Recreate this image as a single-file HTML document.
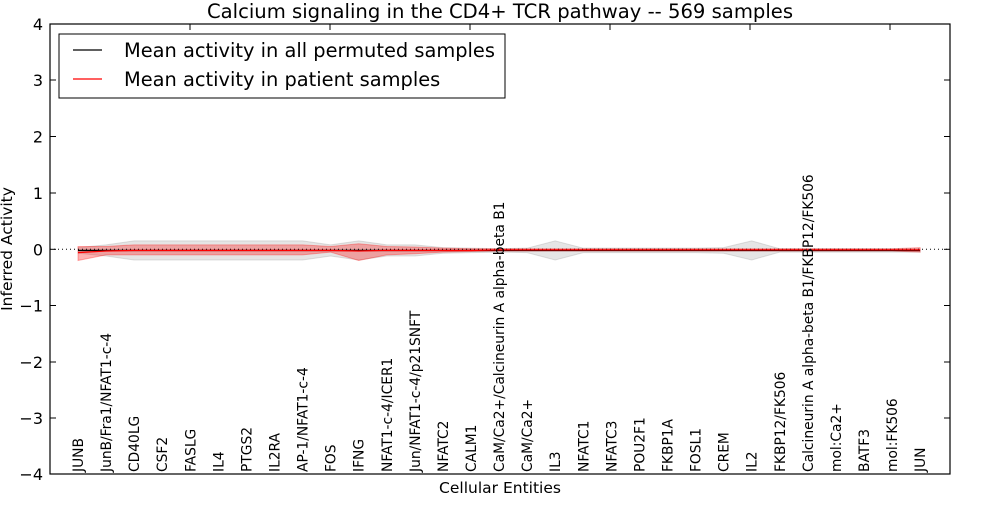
<!DOCTYPE html>
<html><head><meta charset="utf-8"><style>
html,body{margin:0;padding:0;background:#fff;}
svg text{font-family:"DejaVu Sans","Liberation Sans",sans-serif;}
</style></head><body>
<svg id="s" width="1000" height="500" viewBox="0 0 1000 500" xmlns="http://www.w3.org/2000/svg">
<rect width="1000" height="500" fill="#fff"/>
<g id="bands"></g>
<line x1="50" y1="249.3" x2="950" y2="249.3" stroke="#000" stroke-width="1" stroke-dasharray="1,3"/>
<g id="lines"></g>
<rect x="50" y="24" width="900" height="450" fill="none" stroke="#000" stroke-width="1.2"/>
<g stroke="#000" stroke-width="1">
<line x1="50" y1="24" x2="56" y2="24"/><line x1="50" y1="80" x2="56" y2="80"/><line x1="50" y1="136.5" x2="56" y2="136.5"/><line x1="50" y1="193" x2="56" y2="193"/><line x1="50" y1="249.3" x2="56" y2="249.3"/><line x1="50" y1="305.5" x2="56" y2="305.5"/><line x1="50" y1="362" x2="56" y2="362"/><line x1="50" y1="418" x2="56" y2="418"/>
<line x1="950" y1="80" x2="944" y2="80"/><line x1="950" y1="136.5" x2="944" y2="136.5"/><line x1="950" y1="193" x2="944" y2="193"/><line x1="950" y1="249.3" x2="944" y2="249.3"/><line x1="950" y1="305.5" x2="944" y2="305.5"/><line x1="950" y1="362" x2="944" y2="362"/><line x1="950" y1="418" x2="944" y2="418"/>
<line x1="190" y1="24" x2="190" y2="30"/><line x1="330" y1="24" x2="330" y2="30"/><line x1="470" y1="24" x2="470" y2="30"/><line x1="610" y1="24" x2="610" y2="30"/><line x1="750" y1="24" x2="750" y2="30"/><line x1="890" y1="24" x2="890" y2="30"/>
</g>
<g font-size="16" text-anchor="end" fill="#000">
<text x="43" y="30">4</text><text x="43" y="86">3</text><text x="43" y="142.5">2</text><text x="43" y="199">1</text><text x="43" y="255.3">0</text><text x="43" y="311.5">−1</text><text x="43" y="368">−2</text><text x="43" y="424">−3</text><text x="43" y="480">−4</text>
</g>
<text x="500" y="18" font-size="19.6" text-anchor="middle">Calcium signaling in the CD4+ TCR pathway -- 569 samples</text>
<text x="500" y="493" font-size="15.5" text-anchor="middle">Cellular Entities</text>
<text transform="translate(12,249) rotate(-90)" font-size="15.5" text-anchor="middle">Inferred Activity</text>
<g id="labels" font-size="13.8"></g>
<rect x="59" y="34" width="446" height="64" fill="#fff" stroke="#000" stroke-width="1"/>
<line x1="73" y1="50" x2="102" y2="50" stroke="#000" stroke-width="1.3"/>
<line x1="73" y1="79" x2="102" y2="79" stroke="#f00" stroke-width="1.3"/>
<text x="124" y="57" font-size="19.4">Mean activity in all permuted samples</text>
<text x="124" y="86" font-size="19.4">Mean activity in patient samples</text>
</svg>
<script>
var X=function(i){return 78+28.07*i},Y=function(v){return 249.3-56*v};
var names=["JUNB","JunB/Fra1/NFAT1-c-4","CD40LG","CSF2","FASLG","IL4","PTGS2","IL2RA","AP-1/NFAT1-c-4","FOS","IFNG","NFAT1-c-4/ICER1","Jun/NFAT1-c-4/p21SNFT","NFATC2","CALM1","CaM/Ca2+/Calcineurin A alpha-beta B1","CaM/Ca2+","IL3","NFATC1","NFATC3","POU2F1","FKBP1A","FOSL1","CREM","IL2","FKBP12/FK506","Calcineurin A alpha-beta B1/FKBP12/FK506","mol:Ca2+","BATF3","mol:FK506","JUN"];
var g=[0.05,0.1,0.17,0.17,0.17,0.17,0.17,0.17,0.17,0.1,0.17,0.1,0.1,0.05,0.04,0.03,0.04,0.17,0.04,0.04,0.04,0.04,0.04,0.05,0.17,0.03,0.03,0.03,0.03,0.03,0.03];
var gc=g.map(function(){return -0.02});
var rl=[-0.2,-0.1,-0.1,-0.1,-0.1,-0.1,-0.1,-0.1,-0.1,-0.05,-0.2,-0.1,-0.08,-0.05,-0.04,-0.03,-0.03,-0.03,-0.03,-0.03,-0.03,-0.03,-0.03,-0.03,-0.03,-0.03,-0.03,-0.03,-0.03,-0.03,-0.05];
var rh=[0.05,0.05,0.08,0.08,0.08,0.08,0.08,0.08,0.08,0.05,0.1,0.05,0.04,0.02,0.01,0.01,0.01,0.01,0.01,0.01,0.01,0.01,0.01,0.01,0.01,0.01,0.01,0.01,0.01,0.01,0.03];
var rm=[-0.06,-0.03,-0.02,-0.02,-0.02,-0.02,-0.02,-0.02,-0.02,-0.02,-0.03,-0.02,-0.02,-0.02,-0.02,-0.01,-0.01,-0.01,-0.01,-0.01,-0.01,-0.01,-0.01,-0.01,-0.01,-0.01,-0.01,-0.01,-0.01,-0.01,-0.01];
function poly(lo,hi,fill,op){var p=[];for(var i=0;i<31;i++)p.push(X(i)+","+Y(hi[i]));for(var i=30;i>=0;i--)p.push(X(i)+","+Y(lo[i]));return '<polygon points="'+p.join(" ")+'" fill="'+fill+'" fill-opacity="'+op+'" stroke="'+fill+'" stroke-opacity="0.3"/>';}
function line(v,c){var p=[];for(var i=0;i<31;i++)p.push(X(i)+","+Y(v[i]));return '<polyline points="'+p.join(" ")+'" fill="none" stroke="'+c+'" stroke-width="1.3"/>';}
var gl=g.map(function(x,i){return gc[i]-x}),gh=g.map(function(x,i){return gc[i]+x});
document.getElementById("bands").innerHTML=poly(gl,gh,"#999","0.25")+poly(rl,rh,"#f00","0.3");
document.getElementById("lines").innerHTML=line(gc,"#000")+line(rm,"#f00");
var h="";for(var i=0;i<31;i++){h+='<text transform="translate('+(X(i)+5)+',472) rotate(-90)">'+names[i]+'</text>';}
document.getElementById("labels").innerHTML=h;
</script>
</body></html>
